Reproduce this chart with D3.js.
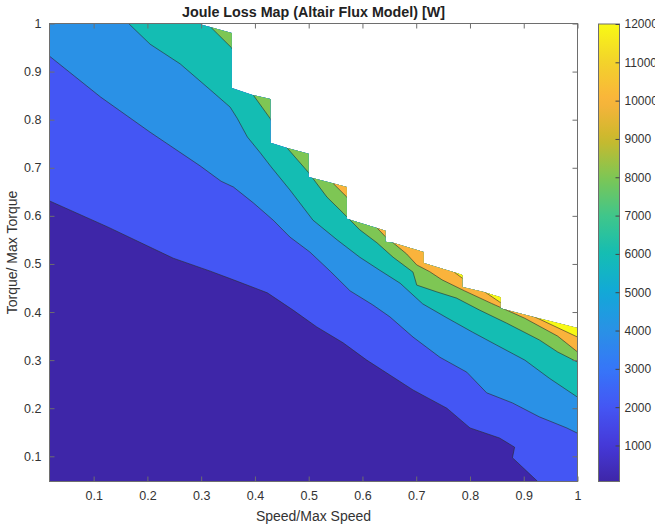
<!DOCTYPE html>
<html><head><meta charset="utf-8">
<script src="https://cdn.jsdelivr.net/npm/d3@7"></script>
<style>body{margin:0;background:#fff;} text{font-family:"Liberation Sans",Arial,Helvetica,sans-serif;}</style>
</head><body><svg id="c" width="655" height="529"></svg>
<script>
// ---------------- data ----------------
const speedRange = [0.0179, 1];      // Speed/Max Speed extent
const torqueRange = [0.0476, 1];     // Torque/Max Torque extent
const lossRange = [60, 12000];       // colour limits [W]
const levels = [2000, 4000, 6000, 8000, 10000, 12000];

// contour lines (speed, torque)
const iso2000Speed  = [0.018,0.126,0.248,0.317,0.360,0.423,0.471,0.515,0.564,0.608,0.651,0.694,0.757,0.800,0.855,0.883,0.879,0.926];
const iso2000Torque = [0.631,0.577,0.512,0.485,0.467,0.440,0.404,0.369,0.336,0.300,0.269,0.238,0.200,0.159,0.138,0.119,0.097,0.0476];
const iso4000Speed  = [0.018,0.113,0.205,0.298,0.337,0.360,0.397,0.434,0.465,0.502,0.540,0.577,0.619,0.651,0.694,0.744,0.794,0.831,0.879,0.929,0.980,1.0];
const iso4000Torque = [0.932,0.847,0.774,0.704,0.672,0.660,0.627,0.591,0.556,0.525,0.485,0.444,0.415,0.390,0.348,0.306,0.275,0.232,0.211,0.182,0.159,0.148];
const iso6000Speed  = [0.165,0.205,0.261,0.317,0.354,0.367,0.386,0.410,0.430,0.465,0.508,0.553,0.595,0.632,0.670,0.712,0.757,0.805,0.850,0.902,0.948,1.0];
const iso6000Torque = [1.0,0.957,0.916,0.862,0.826,0.803,0.764,0.731,0.702,0.654,0.591,0.550,0.514,0.487,0.460,0.417,0.388,0.358,0.331,0.300,0.262,0.223];
const iso8000Speed  = [0.311,0.357,0.397,0.428,0.460,0.499,0.534,0.564,0.595,0.627,0.657,0.694,0.701,0.738,0.775,0.818,0.868,0.929,0.963,1.0];
const iso8000Torque = [1.0,0.949,0.851,0.803,0.741,0.691,0.639,0.606,0.571,0.544,0.514,0.483,0.456,0.442,0.429,0.404,0.377,0.342,0.317,0.296];
const iso10000Speed  = [0.410,0.545,0.571,0.627,0.645,0.657,0.682,0.701,0.725,0.748,0.790,0.840,0.902,0.963,1.0];
const iso10000Torque = [1.0,0.668,0.639,0.575,0.554,0.544,0.521,0.498,0.484,0.467,0.444,0.418,0.387,0.350,0.317];
const iso12000Speed  = [0.632,0.766,0.785,0.822,0.855,0.924,1.0];
const iso12000Torque = [1.0,0.487,0.471,0.446,0.421,0.388,0.348];

// operating envelope (max torque vs speed), outside it the map is empty
const envSpeed  = [0.293,0.357,0.357,0.397,0.429,0.429,0.460,0.500,0.500,0.545,0.571,0.571,0.627,0.643,0.643,0.657,0.714,0.714,0.775,0.786,0.786,0.824,0.857,0.857,0.924,1.0];
const envTorque = [1.0,0.980,0.866,0.851,0.843,0.752,0.741,0.729,0.681,0.668,0.660,0.594,0.575,0.569,0.546,0.544,0.525,0.502,0.481,0.477,0.452,0.442,0.431,0.408,0.388,0.367];

const xTicks = [0.1,0.2,0.3,0.4,0.5,0.6,0.7,0.8,0.9,1];
const yTicks = [0.1,0.2,0.3,0.4,0.5,0.6,0.7,0.8,0.9,1];
const cbTicks = [1000,2000,3000,4000,5000,6000,7000,8000,9000,10000,11000,12000];

// parula-like colormap anchors
const cmapValues = [60,1000,2000,3000,4000,5000,6000,7000,8000,9000,10000,11000,12000];
const cmapColors = ["#3e26a8","#4539d8","#4456f4","#3676f8","#2a91e6","#12a8d8","#14bdb3","#40c68a","#7ec654","#cbb92c","#fab33c","#f3d22b","#f8f915"];

// ---------------- drawing ----------------
const L = 49.5, R = 577.5, T = 23.5, B = 481.5;
const svg = d3.select("#c");
const x = d3.scaleLinear().domain(speedRange).range([L, R]);
const y = d3.scaleLinear().domain(torqueRange).range([B, T]);
const color = d3.scaleLinear().domain(cmapValues).range(cmapColors).interpolate(d3.interpolateRgb);

const isoSpeeds = [iso2000Speed, iso4000Speed, iso6000Speed, iso8000Speed, iso10000Speed, iso12000Speed];
const isoTorques = [iso2000Torque, iso4000Torque, iso6000Torque, iso8000Torque, iso10000Torque, iso12000Torque];
const isolines = levels.map((lv, i) => ({level: lv, pts: isoSpeeds[i].map((s, j) => [s, isoTorques[i][j]])}));

const line = d3.line().x(d => x(d[0])).y(d => y(d[1]));

// envelope clip polygon
const envPts = [[speedRange[0], torqueRange[0]], [speedRange[0], torqueRange[1]]]
  .concat(envSpeed.map((s, i) => [s, envTorque[i]]))
  .concat([[speedRange[1], torqueRange[0]]]);
const defs = svg.append("defs");
defs.append("clipPath").attr("id", "env").append("path").attr("d", line(envPts) + "Z");

const g = svg.append("g").attr("clip-path", "url(#env)");
g.append("rect").attr("x", L).attr("y", T).attr("width", R - L).attr("height", B - T)
  .attr("fill", color(lossRange[0]));

// region above each contour line (higher loss)
const sx0 = speedRange[0], sx1 = speedRange[1], ty0 = torqueRange[0], ty1 = torqueRange[1];
isolines.forEach(iso => {
  const poly = iso.pts.concat([[sx1 + 1, ty0 - 1], [sx1 + 1, ty1 + 1], [sx0 - 1, ty1 + 1]]);
  g.append("path").attr("d", line(poly) + "Z").attr("fill", color(iso.level)).attr("stroke", "none");
});
isolines.forEach(iso => {
  g.append("path").attr("d", line(iso.pts)).attr("fill", "none")
    .attr("stroke", "#2b2b2b").attr("stroke-width", 0.8).attr("stroke-opacity", 0.75)
    .attr("stroke-linejoin", "round");
});

// axes
const fmt = d3.format("~g");
const axCol = "#6e6e6e", txtCol = "#333";
function styleAxis(sel, withText) {
  sel.select(".domain").remove();
  sel.selectAll(".tick line").attr("stroke", axCol);
  sel.selectAll(".tick text").attr("fill", txtCol).style("font-size", "12.5px");
  if (!withText) sel.selectAll(".tick text").remove();
}
svg.append("g").attr("transform", `translate(0,${B})`)
  .call(d3.axisBottom(x).tickValues(xTicks).tickSize(-5).tickPadding(10).tickFormat(fmt))
  .call(s => styleAxis(s, true));
svg.append("g").attr("transform", `translate(0,${T})`)
  .call(d3.axisTop(x).tickValues(xTicks).tickSize(-5).tickFormat(""))
  .call(s => styleAxis(s, false));
svg.append("g").attr("transform", `translate(${L},0)`)
  .call(d3.axisLeft(y).tickValues(yTicks).tickSize(-5).tickPadding(8).tickFormat(fmt))
  .call(s => styleAxis(s, true));
svg.append("g").attr("transform", `translate(${R},0)`)
  .call(d3.axisRight(y).tickValues(yTicks).tickSize(-5).tickFormat(""))
  .call(s => styleAxis(s, false));
svg.append("rect").attr("x", L).attr("y", T).attr("width", R - L).attr("height", B - T)
  .attr("fill", "none").attr("stroke", axCol).attr("stroke-width", 1);

// titles
svg.append("text").attr("x", (L + R) / 2).attr("y", 17).attr("text-anchor", "middle")
  .attr("font-weight", "bold").style("font-size", "14.3px").attr("fill", "#222")
  .text("Joule Loss Map (Altair Flux Model) [W]");
svg.append("text").attr("x", (L + R) / 2).attr("y", 521).attr("text-anchor", "middle")
  .style("font-size", "14px").attr("fill", txtCol).text("Speed/Max Speed");
svg.append("text").attr("transform", `translate(17,${(T + B) / 2}) rotate(-90)`).attr("text-anchor", "middle")
  .style("font-size", "14px").attr("fill", txtCol).text("Torque/ Max Torque");

// colorbar
const cbX = 598.5, cbW = 21, cbT = 24, cbB = 481.5;
const cb = d3.scaleLinear().domain(lossRange).range([cbB, cbT]);
const grad = defs.append("linearGradient").attr("id", "cbg").attr("x1", 0).attr("y1", 1).attr("x2", 0).attr("y2", 0);
d3.range(0, 1.0001, 0.02).forEach(t => {
  grad.append("stop").attr("offset", t).attr("stop-color", color(lossRange[0] + t * (lossRange[1] - lossRange[0])));
});
svg.append("rect").attr("x", cbX).attr("y", cbT).attr("width", cbW).attr("height", cbB - cbT)
  .attr("fill", "url(#cbg)").attr("stroke", axCol).attr("stroke-width", 1);
const cbg = svg.append("g").attr("transform", `translate(${cbX + cbW},0)`)
  .call(d3.axisRight(cb).tickValues(cbTicks).tickSize(-4).tickPadding(5).tickFormat(d3.format("d")));
cbg.select(".domain").remove();
cbg.selectAll(".tick line").attr("stroke", "#444");
cbg.selectAll(".tick text").attr("fill", txtCol).style("font-size", "12px");
</script></body></html>
